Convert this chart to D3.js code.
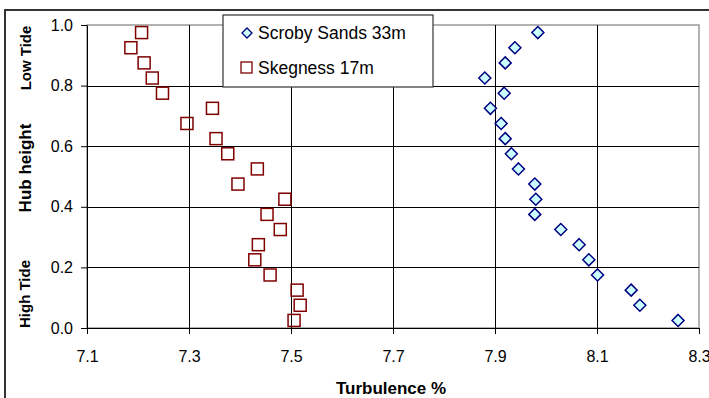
<!DOCTYPE html>
<html>
<head>
<meta charset="utf-8">
<script src="https://cdn.jsdelivr.net/npm/d3@7"></script>
<style>
  body { margin: 0; background: #fff; }
  svg { display: block; font-family: "Liberation Sans", Arial, sans-serif; }
</style>
</head>
<body>
<svg id="chart" width="709" height="398"></svg>
<script>
"use strict";

// hub height (fraction), top to bottom
var hubHeights = [0.975, 0.925, 0.875, 0.825, 0.775, 0.725, 0.675, 0.625, 0.575, 0.525,
                  0.475, 0.425, 0.375, 0.325, 0.275, 0.225, 0.175, 0.125, 0.075, 0.025];
var scrobySands = [7.984, 7.939, 7.920, 7.880, 7.918, 7.891, 7.912, 7.920, 7.932, 7.946,
                   7.978, 7.980, 7.978, 8.029, 8.065, 8.084, 8.101, 8.167, 8.184, 8.259];
var skegness = [7.207, 7.186, 7.212, 7.228, 7.248, 7.346, 7.296, 7.353, 7.376, 7.434,
                7.396, 7.488, 7.453, 7.479, 7.436, 7.429, 7.459, 7.512, 7.518, 7.506];
var xTicks = [7.1, 7.3, 7.5, 7.7, 7.9, 8.1, 8.3];
var yTicks = [0.0, 0.2, 0.4, 0.6, 0.8, 1.0];
var seriesNames = ["Scroby Sands 33m", "Skegness 17m"];

(function () {
    var margin = { top: 25, left: 87 },
        chartWidth = 612,
        chartHeight = 303;

    var svg = d3.select("#chart");

    // outer chart border
    svg.append("rect")
        .attr("x", 5).attr("y", 10)
        .attr("width", 720).attr("height", 400)
        .attr("fill", "none")
        .attr("stroke", "#333")
        .attr("stroke-width", 2);

    var g = svg.append("g")
        .attr("transform", "translate(" + margin.left + "," + margin.top + ")");

    var xScale = d3.scaleLinear().domain([7.1, 8.3]).range([0, chartWidth]);
    var yScale = d3.scaleLinear().domain([0, 1]).range([chartHeight, 0]);

    // plot area border
    g.append("rect")
        .attr("width", chartWidth).attr("height", chartHeight)
        .attr("fill", "none")
        .attr("stroke", "#999")
        .attr("stroke-width", 1.5);

    // gridlines
    g.selectAll(".hgrid")
        .data(yTicks.filter(d => d > 0 && d < 1))
        .enter().append("line")
        .attr("x1", 0).attr("x2", chartWidth)
        .attr("y1", d => Math.round(yScale(d)) + 0.5)
        .attr("y2", d => Math.round(yScale(d)) + 0.5)
        .attr("stroke", "#000");

    g.selectAll(".vgrid")
        .data(xTicks.filter(d => d > 7.1 && d < 8.3))
        .enter().append("line")
        .attr("y1", 0).attr("y2", chartHeight)
        .attr("x1", d => Math.round(xScale(d)) + 0.5)
        .attr("x2", d => Math.round(xScale(d)) + 0.5)
        .attr("stroke", "#000");

    var xAxis = d3.axisBottom(xScale)
        .tickValues(xTicks)
        .tickFormat(d3.format(".1f"))
        .tickSizeInner(6).tickSizeOuter(0).tickPadding(8);

    var yAxis = d3.axisLeft(yScale)
        .tickValues(yTicks)
        .tickFormat(d3.format(".1f"))
        .tickSizeInner(6).tickSizeOuter(0).tickPadding(8);

    var xg = g.append("g")
        .attr("transform", "translate(0," + chartHeight + ")")
        .call(xAxis);
    var yg = g.append("g").call(yAxis);

    [xg, yg].forEach(function (a) {
        a.selectAll("path").attr("stroke", "#000");
        a.selectAll("line").attr("stroke", "#000");
        a.selectAll("text")
            .attr("fill", "#000")
            .style("font-size", "16px")
            .style("font-family", "Liberation Sans, Arial, sans-serif");
    });
    xg.selectAll("text").attr("y", 23).attr("dy", "0.71em");

    // Scroby Sands diamonds
    var diamond = "M0,-6L6,0L0,6L-6,0Z";
    g.selectAll(".scroby")
        .data(scrobySands)
        .enter().append("path")
        .attr("d", diamond)
        .attr("transform", (d, i) => "translate(" + xScale(d) + "," + yScale(hubHeights[i]) + ")")
        .attr("fill", "#ccffff")
        .attr("stroke", "#000080")
        .attr("stroke-width", 1.5);

    // Skegness squares
    g.selectAll(".skeg")
        .data(skegness)
        .enter().append("rect")
        .attr("x", d => xScale(d) - 6)
        .attr("y", (d, i) => yScale(hubHeights[i]) - 6)
        .attr("width", 12).attr("height", 12)
        .attr("fill", "none")
        .attr("stroke", "#800000")
        .attr("stroke-width", 1.5);

    // axis titles
    svg.append("text")
        .attr("x", 391).attr("y", 394)
        .attr("text-anchor", "middle")
        .style("font-size", "17px").style("font-weight", "bold")
        .text("Turbulence %");

    svg.append("text")
        .attr("transform", "translate(31,168) rotate(-90)")
        .attr("text-anchor", "middle")
        .style("font-size", "17px").style("font-weight", "bold")
        .text("Hub height");

    svg.append("text")
        .attr("transform", "translate(31,58) rotate(-90)")
        .attr("text-anchor", "middle")
        .style("font-size", "15px").style("font-weight", "bold")
        .text("Low Tide");

    svg.append("text")
        .attr("transform", "translate(30,294) rotate(-90)")
        .attr("text-anchor", "middle")
        .style("font-size", "15px").style("font-weight", "bold")
        .text("High Tide");

    // legend
    var legend = svg.append("g").attr("transform", "translate(223,15)");
    legend.append("rect")
        .attr("width", 210).attr("height", 72)
        .attr("fill", "#fff")
        .attr("stroke", "#333")
        .attr("stroke-width", 1.2);

    legend.append("path")
        .attr("d", "M0,-5L5,0L0,5L-5,0Z")
        .attr("transform", "translate(24,18)")
        .attr("fill", "#ccffff")
        .attr("stroke", "#000080")
        .attr("stroke-width", 1.3);
    legend.append("rect")
        .attr("x", 18).attr("y", 47)
        .attr("width", 11).attr("height", 11)
        .attr("fill", "none")
        .attr("stroke", "#800000")
        .attr("stroke-width", 1.3);

    legend.selectAll(".ltext")
        .data(seriesNames)
        .enter().append("text")
        .attr("x", 35)
        .attr("y", (d, i) => 24 + i * 35)
        .style("font-size", "17.5px")
        .text(d => d);
})();
</script>
</body>
</html>
